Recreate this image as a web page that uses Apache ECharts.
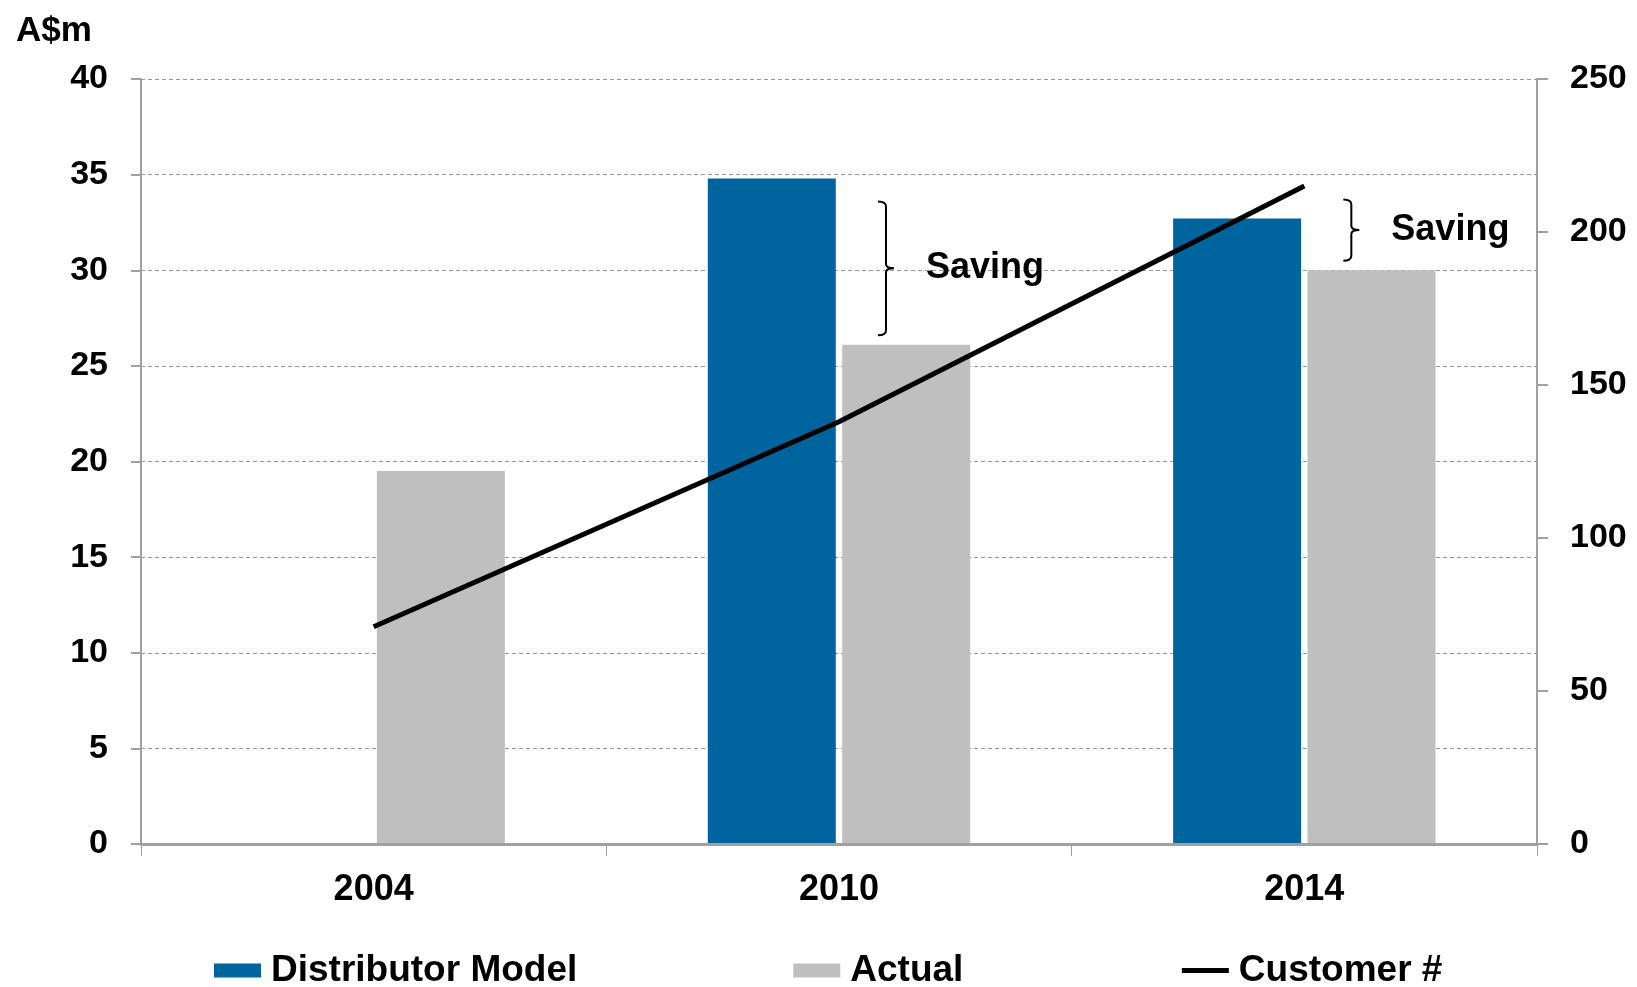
<!DOCTYPE html>
<html>
<head>
<meta charset="utf-8">
<style>
  html, body { margin: 0; padding: 0; background: #fff; }
  #chart { width: 1637px; height: 987px; }
</style>
<script src="https://cdn.jsdelivr.net/npm/echarts@6/dist/echarts.min.js"></script>
</head>
<body>
<div id="chart"></div>
<script>
// values
const years = ['2004', '2010', '2014']
const distributorModel = [null, 34.8, 32.7]
const actual = [19.5, 26.1, 30.0]
const customers = [71, 138, 215]
// saving brackets: [category index, top, bottom] in A$m
const savings = [[1, 33.6, 26.6], [2, 33.7, 30.5]]
const leftTicks = { min: 0, max: 40, interval: 5 }
const rightTicks = { min: 0, max: 250, interval: 50 }

const font = '"Liberation Sans", Arial, sans-serif'
const axisGrey = '#a0a0a0'

const chart = echarts.init(document.getElementById('chart'))
chart.setOption({
  backgroundColor: '#fff',
  animation: false,
  textStyle: { fontFamily: font },
  title: {
    text: 'A$m',
    left: 11,
    top: 9,
    textStyle: { fontSize: 35, fontWeight: 'bold', color: '#000', fontFamily: font }
  },
  legend: {
    top: 947,
    left: 209,
    itemWidth: 47,
    itemHeight: 14,
    itemGap: 216,
    textStyle: {
      fontSize: 37, fontWeight: 'bold', color: '#000', fontFamily: font,
      lineHeight: 37, padding: [0, 0, 0, 5]
    },
    data: [
      { name: 'Distributor Model', icon: 'rect' },
      { name: 'Actual', icon: 'rect' },
      { name: 'Customer #', itemStyle: { opacity: 0 }, lineStyle: { color: '#000', width: 5 } }
    ]
  },
  grid: {
    left: 141,
    right: 100,
    top: 79,
    bottom: 143
  },
  xAxis: {
    type: 'category',
    data: years,
    z: 5,
    axisLine: { lineStyle: { color: axisGrey, width: 3 } },
    axisTick: { show: true, length: 12, lineStyle: { color: axisGrey, width: 1 } },
    axisLabel: { fontSize: 36, fontWeight: 'bold', color: '#000', margin: 28 }
  },
  yAxis: [{
    type: 'value',
    min: leftTicks.min,
    max: leftTicks.max,
    interval: leftTicks.interval,
    axisLine: { show: true, lineStyle: { color: axisGrey, width: 2 } },
    axisTick: { show: true, length: 10, lineStyle: { color: axisGrey, width: 2 } },
    axisLabel: { fontSize: 34, fontWeight: 'bold', color: '#000', margin: 33 },
    splitLine: { show: true, lineStyle: { color: '#999', type: [4, 3], width: 1 } }
  }, {
    type: 'value',
    min: rightTicks.min,
    max: rightTicks.max,
    interval: rightTicks.interval,
    position: 'right',
    axisLine: { show: true, lineStyle: { color: axisGrey, width: 2 } },
    axisTick: { show: true, length: 11, lineStyle: { color: axisGrey, width: 2 } },
    axisLabel: { fontSize: 34, fontWeight: 'bold', color: '#000', margin: 33 },
    splitLine: { show: false }
  }],
  series: [{
    name: 'Distributor Model',
    type: 'bar',
    barWidth: 128,
    barGap: '5%',
    itemStyle: { color: '#00649f' },
    data: distributorModel
  }, {
    name: 'Actual',
    type: 'bar',
    barWidth: 128,
    barGap: '5%',
    itemStyle: { color: '#bfbfbf' },
    data: actual
  }, {
    name: 'Customer #',
    type: 'line',
    yAxisIndex: 1,
    symbol: 'none',
    lineStyle: { color: '#000', width: 5 },
    itemStyle: { color: '#000' },
    z: 4,
    data: customers
  }, {
    name: 'Saving',
    type: 'custom',
    z: 4,
    renderItem: function (params, api) {
      const top = api.coord([api.value(0), api.value(1)])
      const bottom = api.coord([api.value(0), api.value(2)])
      const x = top[0] + 47
      const y0 = top[1]
      const y1 = bottom[1]
      const mid = (y0 + y1) / 2
      const path = 'M' + (x - 8) + ',' + y0 +
        ' Q' + x + ',' + y0 + ' ' + x + ',' + (y0 + 5) +
        ' L' + x + ',' + (mid - 4) +
        ' Q' + x + ',' + mid + ' ' + (x + 8) + ',' + mid +
        ' Q' + x + ',' + mid + ' ' + x + ',' + (mid + 4) +
        ' L' + x + ',' + (y1 - 5) +
        ' Q' + x + ',' + y1 + ' ' + (x - 8) + ',' + y1
      return {
        type: 'group',
        children: [{
          type: 'path',
          shape: { pathData: path },
          style: { fill: null, stroke: '#000', lineWidth: 2 }
        }, {
          type: 'text',
          x: x + 40,
          y: mid,
          style: {
            text: 'Saving',
            fontSize: 36,
            fontWeight: 'bold',
            fontFamily: font,
            fill: '#000',
            align: 'left',
            verticalAlign: 'middle'
          }
        }]
      }
    },
    data: savings
  }]
})
</script>
</body>
</html>
